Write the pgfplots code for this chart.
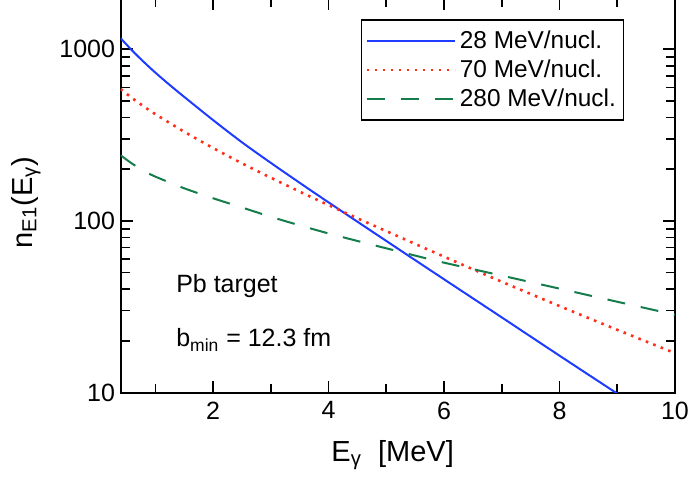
\documentclass[border=0pt]{standalone}
\usepackage{fontspec}
\setmainfont{Liberation Sans}
\usepackage{pgfplots}
\pgfplotsset{compat=1.18}
\definecolor{cblue}{RGB}{30,60,255}
\definecolor{cred}{RGB}{255,45,25}
\definecolor{cgreen}{RGB}{20,125,75}
\begin{document}
\begin{tikzpicture}
\begin{axis}[
  at={(0pt,0pt)}, anchor=south west,
  scale only axis, width=277.2pt, height=197.5pt,
  ymode=log, xmin=0.4, xmax=10, ymin=10, ymax=2000,
  xtick={2,4,6,8,10}, minor xtick={1,3,5,7,9},
  ytick={10,100,1000}, yticklabels={10,100,1000},
  tick align=inside,
  major tick length=6pt, minor tick length=4.5pt,
  every tick/.style={black, line width=0.8pt},
  axis line style={line width=1pt},
  /pgf/number format/assume math mode=true,
  tick label style={font=\fontsize{12.5}{13}\selectfont},
  yticklabel style={xshift=0.7pt},
  xticklabel style={yshift=-1pt},
  legend style={at={(0.433,0.945)}, anchor=north west, draw=black, line width=0.6pt,
    font=\fontsize{12.2}{13}\selectfont, inner xsep=2pt, inner ysep=3.3pt,
    nodes={inner sep=2pt}, row sep=0.2pt},
  legend cell align=left,
  legend image code/.code={\draw[#1] (0pt,0pt) -- (44pt,0pt);},
]
\addplot[cblue, line width=1pt, smooth] coordinates {
(0.4,1159) (0.6,981.7) (0.8,843.3) (1.0,731.1) (1.25,618.9) (1.5,527.9) (2.0,386.8)
(2.5,287.1) (3.0,217.8) (3.5,166.7) (4.0,128.2) (5.0,76.4) (6.0,45.7) (7.0,27.4)
(8.0,16.4) (9.0,9.86)};
\addlegendentry{28 MeV/nucl.}
\addplot[cred, line width=1.3pt, dash pattern=on 1.3pt off 2.7pt, smooth] coordinates {
(0.4,586.1) (0.6,518.8) (0.8,464.5) (1.0,418.8) (1.5,330.8) (2.0,265.9) (2.5,216.6)
(3.0,178.5) (3.5,148.1) (4.0,123.6) (4.5,103.6) (5.0,87.2) (6.0,61.9) (7.0,44.2)
(8.0,31.9) (9.0,23.2) (10.0,16.97)};
\addlegendentry{70 MeV/nucl.}
\addplot[cgreen, line width=1pt, dash pattern=on 9pt off 8pt, smooth] coordinates {
(0.4,241.0) (0.6,215.3) (0.8,195.9) (1.0,181.1) (1.5,154.9) (2.0,135.5) (2.5,119.7)
(3.0,105.7) (3.5,94.2) (4.0,84.5) (4.5,76.4) (5.0,69.2) (5.5,62.8) (6.0,57.1)
(7.0,48.0) (8.0,40.3) (9.0,33.8) (10.0,28.4)};
\addlegendentry{280 MeV/nucl.}
\end{axis}
\node[anchor=base west, font=\fontsize{12.5}{14}\selectfont, inner sep=0pt] at (27.6pt,49.9pt) {Pb target};
\node[anchor=base west, font=\fontsize{12.5}{14}\selectfont, inner sep=0pt] at (27.6pt,22.8pt) {b\textsubscript{min} = 12.3 fm};
\node[anchor=base, font=\fontsize{14.5}{16}\selectfont, inner sep=0pt] at (136pt,-34.5pt) {E\textsubscript{γ}\ \ [MeV]};
\node[rotate=90, anchor=center, font=\fontsize{14.5}{16}\selectfont, inner sep=0pt] at (-47.4pt,95pt) {n\textsubscript{E1}(E\textsubscript{γ})};
\pgfresetboundingbox
\useasboundingbox (-60.35pt,-43.65pt) rectangle (284.7pt,196.3pt);
\end{tikzpicture}
\end{document}
